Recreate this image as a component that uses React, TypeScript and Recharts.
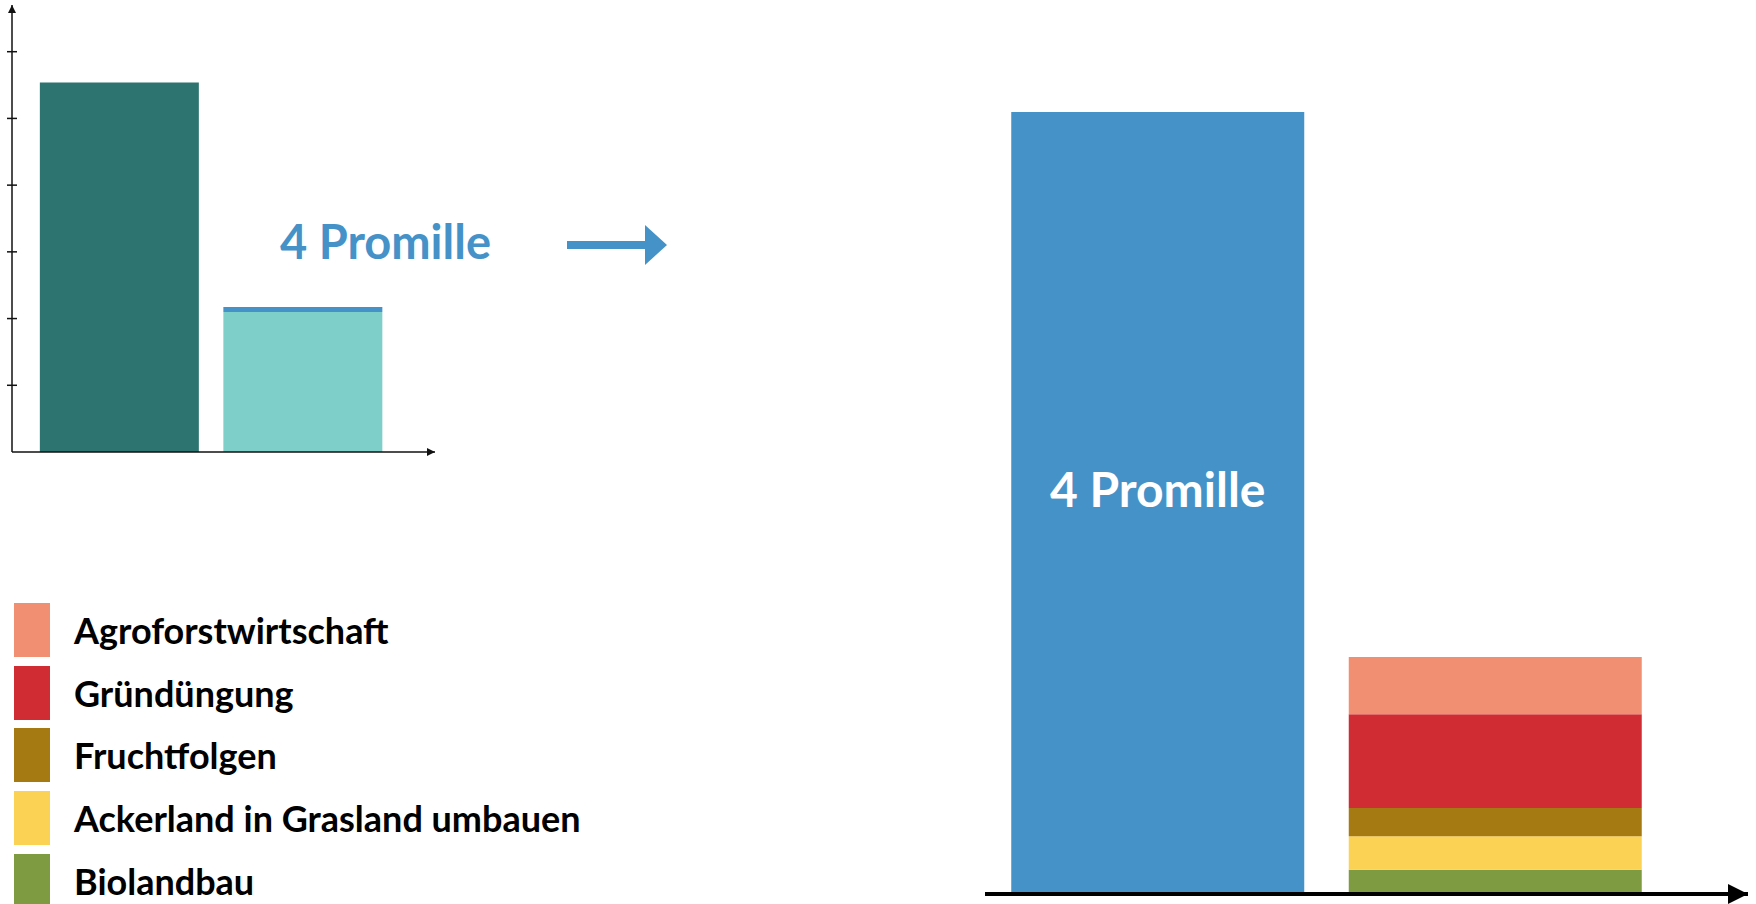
import React from "react";
import { BarChart, Bar, XAxis, YAxis, Cell, Legend, LabelList } from "recharts";

// left: stock before / after
const stockCategories = ["Atmosphäre", "Boden"];
const stockBase = [5.54, 2.1];
const stockPlus = [0, 0.075];
const stockTicks = [1, 2, 3, 4, 5, 6];

// right: 4 Promille vs. measures (% of target)
const targetCategories = ["4 Promille", "Maßnahmen"];
const targetValues = [100, 0];
const targetLabels = ["4 Promille", ""];
const measureNames = [
  "Biolandbau",
  "Ackerland in Grasland umbauen",
  "Fruchtfolgen",
  "Gründüngung",
  "Agroforstwirtschaft",
];
const measureValues = [3.1, 4.3, 3.6, 12.0, 7.3];

const measureColors = ["#7e9b42", "#fcd255", "#a67a12", "#cf2c34", "#f18f73"];
const stockColors = ["#2d7470", "#7ecfca"];
const BLUE = "#4592c8";
const FONT = "Lato, 'Noto Sans', sans-serif";

const stockData = stockCategories.map((name, i) => ({
  name,
  base: stockBase[i],
  plus: stockPlus[i],
}));

const targetData = targetCategories.map((name, i) => {
  const row: any = { name, target: targetValues[i], label: targetLabels[i] };
  measureNames.forEach((m, j) => {
    row["m" + j] = i === 1 ? measureValues[j] : 0;
  });
  return row;
});

const CrossTick = (props: any) => {
  const { x, y } = props;
  return <line x1={x - 5} x2={x + 5} y1={y} y2={y} stroke="#111" strokeWidth={1.5} />;
};

const BarLabel = (props: any) => {
  const { x, y, width, height, value } = props;
  if (!value) return null;
  return (
    <text
      x={x + width / 2}
      y={y + height / 2 + 4}
      textAnchor="middle"
      fill="#fff"
      fontFamily={FONT}
      fontWeight={700}
      fontSize={48}
    >
      {value}
    </text>
  );
};

// legend top-down = stack top-down
const LegendBlock = ({ payload }: any) => {
  const items = [...(payload ?? [])]
    .filter((it: any) => measureNames.includes(it.value))
    .sort((a: any, b: any) => measureNames.indexOf(b.value) - measureNames.indexOf(a.value));
  return (
    <div>
      {items.map((it: any) => (
        <div
          key={it.value}
          style={{ display: "flex", alignItems: "center", height: 54, marginBottom: 8.7 }}
        >
          <span style={{ width: 36, height: 54, background: it.color, display: "inline-block", flex: "none" }} />
          <span
            style={{
              marginLeft: 24,
              fontSize: 36,
              lineHeight: "54px",
              fontWeight: 700,
              fontFamily: FONT,
              color: "#000",
              whiteSpace: "nowrap",
            }}
          >
            {it.value}
          </span>
        </div>
      ))}
    </div>
  );
};

export default function App() {
  return (
    <div style={{ position: "absolute", left: 0, top: 0, width: 1756, height: 904, overflow: "hidden", background: "#fff" }}>
      <svg width={0} height={0} style={{ position: "absolute" }}>
        <defs>
          <marker id="arrowSmall" viewBox="0 0 10 10" refX={10} refY={5} markerWidth={9} markerHeight={8}
            markerUnits="userSpaceOnUse" orient="auto-start-reverse">
            <path d="M0,0 L10,5 L0,10 z" fill="#111" />
          </marker>
          <marker id="arrowBig" viewBox="0 0 10 10" refX={10} refY={5} markerWidth={20} markerHeight={22}
            markerUnits="userSpaceOnUse" orient="auto-start-reverse">
            <path d="M0,0 L10,5 L0,10 z" fill="#000" />
          </marker>
        </defs>
      </svg>

      {/* left chart */}
      <div style={{ position: "absolute", left: 0, top: 0 }}>
        <BarChart width={445} height={460} data={stockData} margin={{ top: 5, right: 10, left: 0, bottom: 0 }}
          barCategoryGap={12.25}>
          <XAxis dataKey="name" height={8} tick={false} tickLine={false}
            padding={{ left: 15.6, right: 40.4 }}
            axisLine={{ stroke: "#111", strokeWidth: 1.5, markerEnd: "url(#arrowSmall)" }} />
          <YAxis width={12} domain={[0, 6.7]} ticks={stockTicks} tickSize={0} tickMargin={0}
            tickLine={false} tick={CrossTick} interval={0}
            axisLine={{ stroke: "#111", strokeWidth: 1.5, markerStart: "url(#arrowSmall)" }} />
          <Bar dataKey="base" stackId="s" isAnimationActive={false}>
            {stockData.map((d, i) => (
              <Cell key={d.name} fill={stockColors[i]} />
            ))}
          </Bar>
          <Bar dataKey="plus" stackId="s" fill={BLUE} isAnimationActive={false} />
        </BarChart>
      </div>

      {/* annotation */}
      <svg width={700} height={300} style={{ position: "absolute", left: 0, top: 0 }}>
        <text x={385.5} y={259} textAnchor="middle" fill={BLUE} fontFamily={FONT} fontWeight={700} fontSize={47}>
          4 Promille
        </text>
        <path d="M567,241 L645,241 L645,225 L667,245 L645,265 L645,249 L567,249 z" fill={BLUE} />
      </svg>

      {/* right chart */}
      <div style={{ position: "absolute", left: 0, top: 0 }}>
        <BarChart width={1756} height={904} data={targetData} margin={{ top: 112, right: 8, left: 985, bottom: 0 }}
          barCategoryGap={22.5}>
          <XAxis dataKey="name" height={10} tick={false} tickLine={false}
            padding={{ left: 3.75, right: 84.25 }}
            axisLine={{ stroke: "#000", strokeWidth: 4, markerEnd: "url(#arrowBig)" }} />
          <YAxis hide domain={[0, 100]} />
          <Legend
            layout="horizontal"
            verticalAlign="middle"
            align="center"
            content={<LegendBlock />}
            wrapperStyle={{ left: 14, top: 603, width: 620 }}
          />
          <Bar dataKey="target" name="4 Promille" stackId="t" fill={BLUE} legendType="none" isAnimationActive={false}>
            <LabelList dataKey="label" content={BarLabel} />
          </Bar>
          {measureNames.map((m, j) => (
            <Bar key={m} dataKey={"m" + j} name={m} stackId="t" fill={measureColors[j]} isAnimationActive={false} />
          ))}
        </BarChart>
      </div>
    </div>
  );
}
